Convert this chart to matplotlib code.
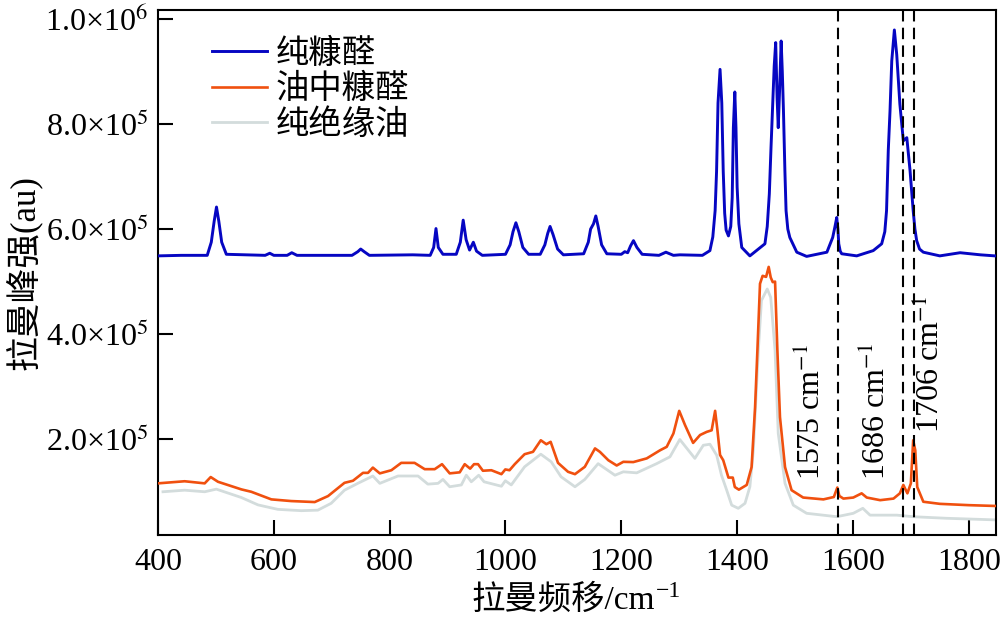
import numpy as np
import matplotlib
matplotlib.use("Agg")
import matplotlib.pyplot as plt
from matplotlib.ticker import FixedLocator, FixedFormatter

plt.rcParams['font.family'] = ['Liberation Serif', 'DejaVu Serif', 'Noto Sans CJK SC']
plt.rcParams['mathtext.fontset'] = 'stix'

# 纯糠醛 (pure furfural)
blue_x = [400, 440, 485, 492, 497, 501, 505, 510, 518, 585, 593, 600, 623, 631, 640,
          735, 745, 750, 756, 765, 840, 870, 876, 880, 884, 892, 915, 922, 927, 932,
          938, 944.5, 950, 960, 1000, 1008, 1013, 1018, 1023, 1030, 1040, 1060, 1068,
          1073, 1077, 1082, 1090, 1100, 1135, 1143, 1147, 1152, 1156, 1160, 1166, 1175,
          1200, 1206, 1211, 1216, 1221, 1227, 1236, 1265, 1277, 1290, 1301, 1340, 1353,
          1358, 1362, 1364.5, 1367, 1370.5, 1373.5, 1376, 1378.5, 1381, 1385, 1389,
          1391.5, 1393.5, 1396, 1398, 1400, 1403, 1408, 1422, 1440, 1448, 1452, 1455.6,
          1458.5, 1461, 1464, 1466.6, 1469, 1471, 1473.5, 1476, 1478, 1480, 1482.5, 1484.5,
          1487.5, 1491, 1503, 1520, 1555, 1565, 1569, 1572, 1574, 1575.5, 1578, 1580.6,
          1606.5, 1635, 1649.6, 1655, 1658, 1661, 1664, 1667, 1671.5, 1675.6, 1678, 1681,
          1687, 1693, 1698.6, 1704, 1707, 1710, 1715, 1721.5, 1750, 1785, 1820, 1845]
blue_y = [5.49e5, 5.50e5, 5.50e5, 5.75e5, 6.15e5, 6.42e5, 6.15e5, 5.75e5, 5.52e5, 5.50e5,
          5.54e5, 5.50e5, 5.50e5, 5.55e5, 5.50e5, 5.50e5, 5.57e5, 5.62e5, 5.57e5, 5.50e5,
          5.51e5, 5.50e5, 5.65e5, 6.01e5, 5.65e5, 5.52e5, 5.52e5, 5.75e5, 6.17e5, 5.80e5,
          5.60e5, 5.75e5, 5.58e5, 5.50e5, 5.52e5, 5.70e5, 5.95e5, 6.12e5, 5.95e5, 5.65e5,
          5.52e5, 5.52e5, 5.70e5, 5.92e5, 6.05e5, 5.90e5, 5.62e5, 5.51e5, 5.53e5, 5.75e5,
          6.00e5, 6.10e5, 6.25e5, 6.05e5, 5.70e5, 5.53e5, 5.52e5, 5.57e5, 5.55e5, 5.68e5,
          5.78e5, 5.65e5, 5.52e5, 5.50e5, 5.56e5, 5.50e5, 5.51e5, 5.50e5, 5.59e5,
          5.85e5, 6.35e5, 7.10e5, 8.40e5, 9.04e5, 8.40e5, 7.10e5, 6.30e5, 5.98e5, 5.87e5,
          6.05e5, 6.60e5, 7.93e5, 8.61e5, 7.93e5, 6.80e5, 6.10e5, 5.65e5, 5.49e5, 5.65e5,
          5.72e5, 6.05e5, 6.67e5, 7.55e5, 8.25e5, 9.10e5, 9.55e5, 8.50e5, 7.93e5, 8.70e5,
          9.58e5, 9.00e5, 8.25e5, 7.10e5, 6.35e5, 6.00e5, 5.84e5, 5.56e5, 5.48e5, 5.56e5,
          5.84e5, 6.05e5, 6.22e5, 6.00e5, 5.72e5, 5.58e5, 5.53e5, 5.49e5, 5.59e5, 5.72e5,
          5.95e5, 6.35e5, 7.50e5, 8.25e5, 9.20e5, 9.79e5, 9.32e5, 8.90e5, 8.38e5, 7.68e5,
          7.74e5, 7.11e5, 6.35e5, 6.00e5, 5.78e5, 5.62e5, 5.56e5, 5.49e5, 5.55e5, 5.51e5,
          5.49e5]

# 油中糠醛 (furfural in oil)
orange_x = [400, 446, 480.6, 491, 503.6, 544, 561, 595.7, 630, 670.6, 693.6, 722, 736.7,
            754, 762.6, 771, 783, 803, 820, 843, 860.5, 877.8, 890.4, 903.7, 921, 929.6,
            939, 945.7, 952.6, 961, 975.6, 993, 999.7, 1007, 1016, 1033, 1047.5, 1061,
            1070.6, 1078, 1090.7, 1108, 1120, 1137, 1154.6, 1163, 1177.6, 1192, 1203.5,
            1220.7, 1243.9, 1267, 1278.4, 1290, 1300, 1310, 1324, 1336, 1347.5, 1356, 1362,
            1366, 1370.5, 1376, 1385, 1392.5, 1396, 1403, 1416.6, 1425, 1431, 1435, 1439.5,
            1444, 1450, 1454.5, 1458, 1461.5, 1465.5, 1469.5, 1474, 1482.7, 1494, 1514,
            1549, 1567, 1573, 1576.5, 1583.5, 1600.6, 1615, 1623.8, 1647, 1670, 1681, 1687,
            1694, 1700, 1704, 1707.6, 1711, 1721.5, 1750, 1800, 1845]
orange_y = [1.16e5, 1.20e5, 1.16e5, 1.28e5, 1.19e5, 1.045e5, 1.00e5, 0.855e5, 0.823e5,
            0.804e5, 0.918e5, 1.17e5, 1.21e5, 1.36e5, 1.36e5, 1.46e5, 1.35e5, 1.41e5,
            1.55e5, 1.55e5, 1.43e5, 1.43e5, 1.525e5, 1.35e5, 1.37e5, 1.525e5, 1.44e5,
            1.525e5, 1.525e5, 1.40e5, 1.41e5, 1.335e5, 1.425e5, 1.41e5, 1.525e5, 1.715e5,
            1.76e5, 1.98e5, 1.905e5, 1.95e5, 1.55e5, 1.38e5, 1.335e5, 1.475e5, 1.825e5,
            1.76e5, 1.60e5, 1.50e5, 1.57e5, 1.565e5, 1.635e5, 1.79e5, 1.855e5, 2.11e5,
            2.54e5, 2.27e5, 1.93e5, 2.08e5, 2.14e5, 2.17e5, 2.54e5, 2.17e5, 1.70e5, 1.60e5,
            1.27e5, 1.27e5, 1.09e5, 1.04e5, 1.13e5, 1.47e5, 2.61e5, 3.69e5, 4.96e5, 5.11e5,
            5.09e5, 5.28e5, 5.08e5, 4.99e5, 5.00e5, 3.69e5, 2.42e5, 1.47e5, 1.03e5, 0.89e5,
            0.855e5, 0.90e5, 1.08e5, 0.92e5, 0.87e5, 0.89e5, 0.97e5, 0.89e5, 0.84e5, 0.87e5,
            0.97e5, 1.13e5, 0.97e5, 1.16e5, 1.98e5, 1.79e5, 1.09e5, 0.81e5, 0.77e5, 0.745e5,
            0.73e5]

# 纯绝缘油 (pure insulating oil)
gray_x = [408.6, 446, 480.6, 500.7, 544, 572.7, 607, 647.5, 676, 699, 722, 745, 771, 783,
          814.4, 849, 866, 883.5, 892, 903.7, 923.8, 932.4, 941, 953.8, 963, 993, 999.7,
          1010, 1033, 1061, 1079, 1096, 1120, 1137, 1160, 1189, 1203.5, 1226.6, 1261, 1284,
          1301, 1327, 1341.6, 1353, 1364.7, 1373, 1382, 1390.6, 1402, 1413.6, 1422, 1428,
          1436.6, 1442, 1452, 1458, 1465.5, 1471, 1482.7, 1497, 1520, 1572, 1600.6, 1617,
          1629.5, 1675.6, 1704, 1762, 1845]
gray_y = [1.00e5, 1.03e5, 1.00e5, 1.05e5, 0.89e5, 0.75e5, 0.665e5, 0.64e5, 0.65e5, 0.78e5,
          1.03e5, 1.16e5, 1.30e5, 1.16e5, 1.30e5, 1.30e5, 1.145e5, 1.16e5, 1.235e5, 1.095e5,
          1.13e5, 1.315e5, 1.19e5, 1.315e5, 1.19e5, 1.105e5, 1.21e5, 1.13e5, 1.475e5,
          1.715e5, 1.57e5, 1.285e5, 1.095e5, 1.235e5, 1.535e5, 1.315e5, 1.38e5, 1.36e5,
          1.535e5, 1.665e5, 1.995e5, 1.635e5, 1.885e5, 1.905e5, 1.695e5, 1.315e5, 1.03e5,
          0.745e5, 0.685e5, 0.78e5, 1.095e5, 1.79e5, 3.69e5, 4.64e5, 4.86e5, 4.70e5,
          3.69e5, 2.11e5, 1.16e5, 0.745e5, 0.59e5, 0.525e5, 0.59e5, 0.685e5, 0.555e5,
          0.555e5, 0.525e5, 0.495e5, 0.465e5]

labels = ['纯糠醛', '油中糠醛', '纯绝缘油']
peak_pos = [1575, 1686, 1706]
peak_text = ['1575 cm$^{-1}$', '1686 cm$^{-1}$', '1706 cm$^{-1}$']
text_x = [1529, 1640, 1733]
text_y = [1.22e5, 1.22e5, 2.11e5]

yticks = [2e5, 4e5, 6e5, 8e5, 1e6]
ytick_labels = ['2.0×10$^5$', '4.0×10$^5$', '6.0×10$^5$', '8.0×10$^5$', '1.0×10$^6$']

fig = plt.figure(figsize=(10.03, 6.18), dpi=100)
ax = fig.add_axes([158 / 1003, 83 / 618, 838 / 1003, 525 / 618])

ax.plot(gray_x, gray_y, color='#d3dcdc', lw=2.0, zorder=2, label=labels[2])
ax.plot(orange_x, orange_y, color='#f0500f', lw=1.9, zorder=3, label=labels[1])
ax.plot(blue_x, blue_y, color='#0606c2', lw=2.1, zorder=4, label=labels[0])

for p in peak_pos:
    ax.axvline(p, color='black', lw=1.5, dashes=(5.5, 3), zorder=5)
for t, tx, ty in zip(peak_text, text_x, text_y):
    ax.text(tx, ty, t, rotation=90, ha='center', va='bottom', fontsize=23)

ax.set_xlim(400, 1847)
ax.set_ylim(1.77e4, 1.017e6)
ax.set_xticks([400, 600, 800, 1000, 1200, 1400, 1600, 1800])
ax.yaxis.set_major_locator(FixedLocator(yticks))
ax.yaxis.set_major_formatter(FixedFormatter(ytick_labels))
ax.tick_params(direction='in', length=10.5, width=1.5, labelsize=23, pad=7)
ax.tick_params(axis='x', pad=9)
for s in ax.spines.values():
    s.set_linewidth(1.5)

ax.set_ylabel('拉曼峰强(au)', fontsize=25, labelpad=2)

# x label with a raised superscript
ax.set_xlabel('拉曼频移/cm', fontsize=24, labelpad=2)
ax.xaxis.set_label_coords(0.5 - 14 / 838, -0.095)
fig.canvas.draw()
bb = ax.xaxis.label.get_window_extent()
fig.text((bb.x1 + 1) / fig.bbox.width, (bb.y1 + 4) / fig.bbox.height, '−1',
         fontsize=17, ha='left', va='top')

h, l = ax.get_legend_handles_labels()
ax.legend(h[::-1], l[::-1], loc='upper left', bbox_to_anchor=(0.064, 0.945),
          frameon=False, fontsize=24, handlelength=1.65, handletextpad=0.28,
          labelspacing=0.12, borderpad=0, borderaxespad=0)

fig.savefig('out.png', dpi=100)
